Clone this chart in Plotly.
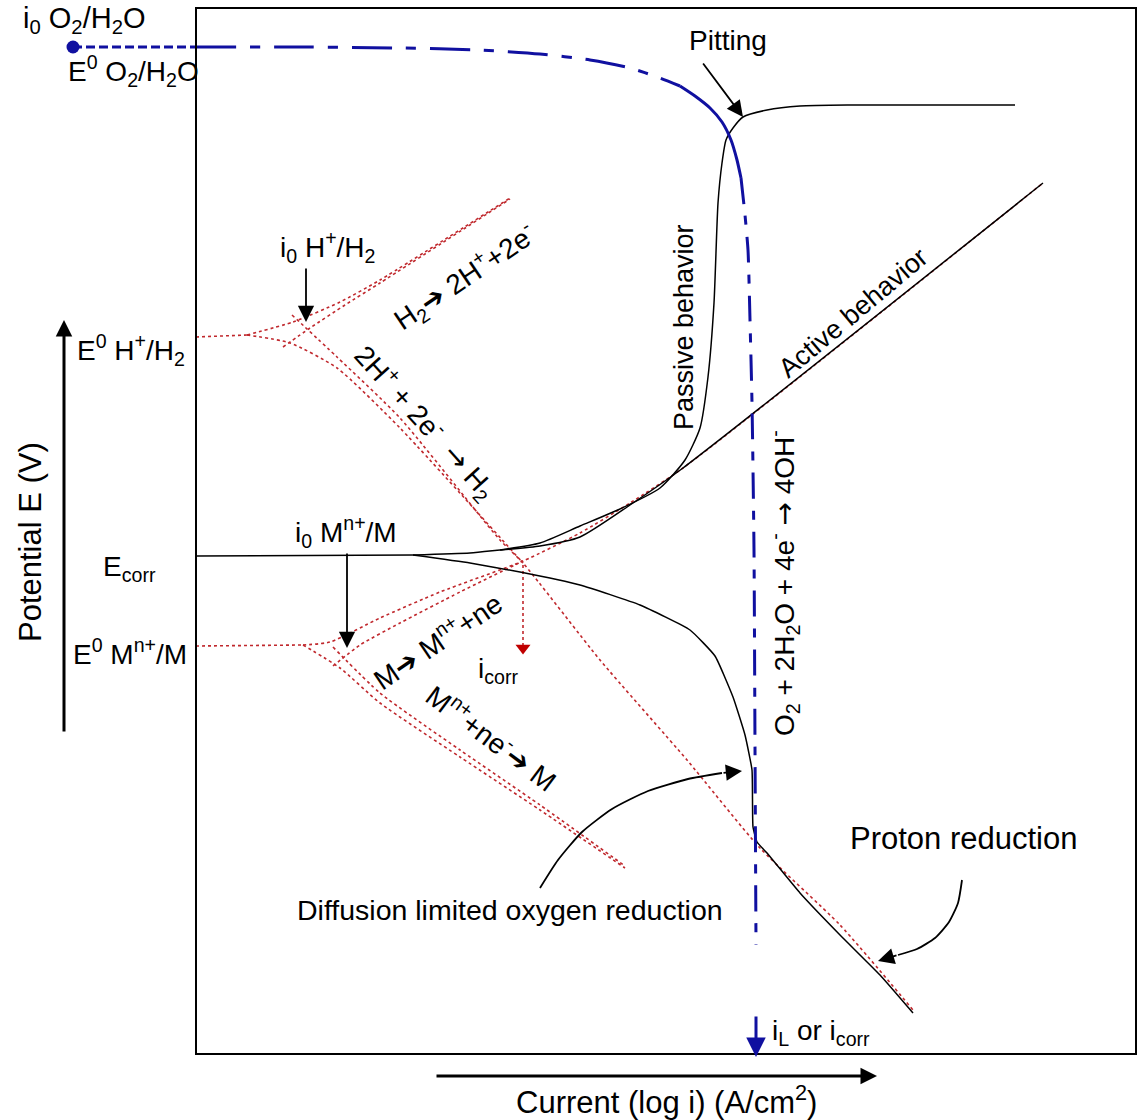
import plotly.graph_objects as go

# ---------------------------------------------------------------
# Evans diagram (schematic). Diagram units: x grows with log i,
# y is drawn top-down (larger y = more negative potential).
# ---------------------------------------------------------------

frame_x = [196, 1136]
frame_y = [8, 1054]

# O2 / H2O reduction (blue)
o2_dot_x, o2_dot_y = [73], [47]
o2_lead_x = [73, 196]
o2_lead_y = [47, 47]
o2_upper_x = [196, 300, 400, 480, 540, 590, 630, 660, 680]
o2_upper_y = [47, 47, 48, 50, 54, 60, 68, 78, 86]
o2_knee_x = [680, 695, 710, 722, 731, 737, 741]
o2_knee_y = [86, 96, 108, 122, 140, 160, 178]
o2_limit_x = [741, 745, 748, 750, 752, 754, 755, 756]
o2_limit_y = [178, 215, 250, 320, 403, 550, 747, 945]

# Measured polarisation curve (black)
ecorr_x = [196, 413]
ecorr_y = [556, 555]
active_x = [413, 470, 500, 540, 580, 630, 683, 1043]
active_y = [555, 553, 550, 546, 537, 505, 468, 183]
passive_x = [500, 540, 580, 620, 660, 685, 700, 708, 714, 718, 722, 726, 733, 743, 767, 800, 850, 1015]
passive_y = [550, 543, 526, 509, 488, 460, 428, 377, 303, 203, 163, 140, 128, 117, 110, 106, 105, 105]
cathodic_x = [413, 470, 520, 580, 640, 690, 715, 733, 745, 752, 753, 757, 767, 800, 840, 880, 913]
cathodic_y = [555, 563, 572, 585, 605, 630, 656, 697, 735, 770, 827, 842, 853, 893, 935, 975, 1013]

# H+/H2 couple (red dotted)
h_base_x = [196, 247]
h_base_y = [337, 335]
h_anod_net_x = [247, 293, 340, 380, 510]
h_anod_net_y = [335, 322, 302, 280, 198]
h_anod_tafel_x = [283, 310, 345, 380, 510]
h_anod_tafel_y = [347, 328, 305, 283, 199]
h_cath_net_x = [247, 290, 337, 400, 523]
h_cath_net_y = [335, 343, 368, 428, 563]
h_cath_tafel_x = [292, 337, 400, 500, 523, 600, 687, 760, 840, 913]
h_cath_tafel_y = [315, 357, 418, 540, 563, 660, 760, 848, 925, 1010]

# Mn+/M couple (red dotted)
m_base_x = [196, 303]
m_base_y = [646, 645]
m_anod_net_x = [303, 330, 380, 440, 523, 580, 630, 683, 1043]
m_anod_net_y = [645, 642, 618, 592, 561, 533, 503, 468, 183]
m_anod_tafel_x = [333, 360, 400, 460, 523]
m_anod_tafel_y = [666, 645, 623, 592, 561]
m_cath_net_x = [303, 340, 380, 460, 540, 625]
m_cath_net_y = [645, 668, 703, 757, 810, 868]
m_cath_tafel_x = [333, 380, 460, 540, 625]
m_cath_tafel_y = [647, 693, 750, 805, 866]

# Corrosion current drop line
icorr_x = [523, 523]
icorr_y = [565, 648]

# Curved pointers
diff_arrow_x = [540, 558, 582, 612, 648, 688, 722]
diff_arrow_y = [888, 860, 832, 809, 791, 779, 773]
proton_arrow_x = [962, 958, 949, 935, 917, 898]
proton_arrow_y = [880, 903, 922, 938, 949, 955]

# Straight pointers: (tail_x, tail_y, tip_x, tip_y)
pitting_ptr = (702, 62, 743, 117)
i0h_ptr = (306, 267, 306, 322)
i0m_ptr = (347, 552, 347, 648)
diff_tip = (722, 773, 742, 771)
proton_tip = (898, 955, 878, 961)
il_ptr = (756, 1015, 756, 1057)
pot_axis = (64, 733, 64, 320)
cur_axis = (435, 1076, 877, 1076)

BLUE = "#1010a0"
RED = "#c0282d"
FONT = "Liberation Sans, Arial, sans-serif"
ARROW = '<span style="font-family:DejaVu Sans">\u2192</span>'
HEAVY = '<span style="font-family:DejaVu Sans">\u2794</span>'

fig = go.Figure()


def line(x, y, color="black", width=1.5, dash="solid", smooth=0.6):
    fig.add_trace(go.Scatter(x=x, y=y, mode="lines", hoverinfo="skip",
                             line=dict(color=color, width=width, dash=dash,
                                       shape="spline", smoothing=smooth)))


# frame
fig.add_shape(type="rect", xref="x", yref="y",
              x0=frame_x[0], x1=frame_x[1], y0=frame_y[0], y1=frame_y[1],
              line=dict(color="black", width=2))

# red dotted Tafel / Butler-Volmer lines
red_dash = "3px,3px"
for xs, ys in [(h_base_x, h_base_y), (h_anod_net_x, h_anod_net_y),
               (h_anod_tafel_x, h_anod_tafel_y), (h_cath_net_x, h_cath_net_y),
               (h_cath_tafel_x, h_cath_tafel_y), (m_base_x, m_base_y),
               (m_anod_net_x, m_anod_net_y), (m_anod_tafel_x, m_anod_tafel_y),
               (m_cath_net_x, m_cath_net_y), (m_cath_tafel_x, m_cath_tafel_y),
               (icorr_x, icorr_y)]:
    line(xs, ys, color=RED, width=1.6, dash=red_dash)

fig.add_trace(go.Scatter(x=[icorr_x[1]], y=[icorr_y[1]], mode="markers",
                         hoverinfo="skip",
                         marker=dict(symbol="triangle-down", size=13, color="#c00000")))

# black measured curves
line(ecorr_x, ecorr_y)
line(active_x, active_y)
line(passive_x, passive_y)
line(cathodic_x, cathodic_y, smooth=0.4)

# blue oxygen reduction curve
line(o2_lead_x, o2_lead_y, color=BLUE, width=3, dash="9px,4px")
line(o2_upper_x, o2_upper_y, color=BLUE, width=3, dash="40px,14px,10px,14px")
line(o2_knee_x, o2_knee_y, color=BLUE, width=3)
line(o2_limit_x, o2_limit_y, color=BLUE, width=3, dash="26px,12px,9px,12px")
fig.add_trace(go.Scatter(x=o2_dot_x, y=o2_dot_y, mode="markers", hoverinfo="skip",
                         marker=dict(size=13, color=BLUE)))

# curved pointer shafts
line(diff_arrow_x, diff_arrow_y, width=1.8)
line(proton_arrow_x, proton_arrow_y, width=1.8)


def arrow(p, color="black", width=1.8, size=1.6):
    fig.add_annotation(x=p[2], y=p[3], ax=p[0], ay=p[1], xref="x", yref="y",
                       axref="x", ayref="y", text="", showarrow=True,
                       arrowhead=2, arrowsize=size, arrowwidth=width,
                       arrowcolor=color)


arrow(pitting_ptr, size=1.8)
arrow(i0h_ptr, size=1.8)
arrow(i0m_ptr, size=1.8)
arrow(diff_tip, size=1.8)
arrow(proton_tip, size=1.8)
arrow(il_ptr, color=BLUE, width=3, size=1.3)
arrow(pot_axis, width=3, size=1.1)
arrow(cur_axis, width=3, size=1.1)


def label(x, y, text, size=28, angle=0, color="black"):
    fig.add_annotation(x=x, y=y, xref="x", yref="y", text=text, showarrow=False,
                       textangle=angle, font=dict(family=FONT, size=size, color=color))


label(84, 20, "i<sub>0</sub> O<sub>2</sub>/H<sub>2</sub>O", size=29)
label(133, 71, "E<sup>0</sup> O<sub>2</sub>/H<sub>2</sub>O")
label(728, 40, "Pitting")
label(328, 247, "i<sub>0</sub> H<sup>+</sup>/H<sub>2</sub>")
label(465, 277, "H<sub>2</sub>" + HEAVY + " 2H<sup>+</sup>+2e<sup>-</sup>", angle=-34)
label(425, 422, "2H<sup>+</sup> + 2e<sup>-</sup>\u00a0\u00a0" + ARROW + " H<sub>2</sub>", angle=48)
label(684, 327, "Passive behavior", size=27, angle=-90)
label(853, 313, "Active behavior", size=27, angle=-40)
label(784, 583, "O<sub>2</sub> + 2H<sub>2</sub>O + 4e<sup>-</sup> " + ARROW + " 4OH<sup>-</sup>", angle=-90)
label(346, 532, "i<sub>0</sub> M<sup>n+</sup>/M")
label(131, 350, "E<sup>0</sup> H<sup>+</sup>/H<sub>2</sub>")
label(129, 568, "E<sub>corr</sub>")
label(130, 652, "E<sup>0</sup> M<sup>n+</sup>/M")
label(437, 640, "M" + HEAVY + " M<sup>n+</sup>+ne", angle=-34)
label(492, 737, "M<sup>n+</sup>+ne<sup>-</sup>" + HEAVY + " M", angle=37)
label(498, 670, "i<sub>corr</sub>")
label(963, 838, "Proton reduction", size=31)
label(510, 910, "Diffusion limited oxygen reduction", size=28.5)
label(821, 1032, "i<sub>L</sub> or i<sub>corr</sub>")
label(30, 542, "Potential E (V)", size=31, angle=-90)
label(666, 1100, "Current (log i) (A/cm<sup>2</sup>)", size=31)

fig.update_layout(
    width=1138, height=1120,
    margin=dict(l=0, r=0, t=0, b=0),
    paper_bgcolor="white", plot_bgcolor="white",
    showlegend=False,
    xaxis=dict(range=[0, 1138], visible=False, fixedrange=True),
    yaxis=dict(range=[1120, 0], visible=False, fixedrange=True),
)

fig.write_html("out.html")
